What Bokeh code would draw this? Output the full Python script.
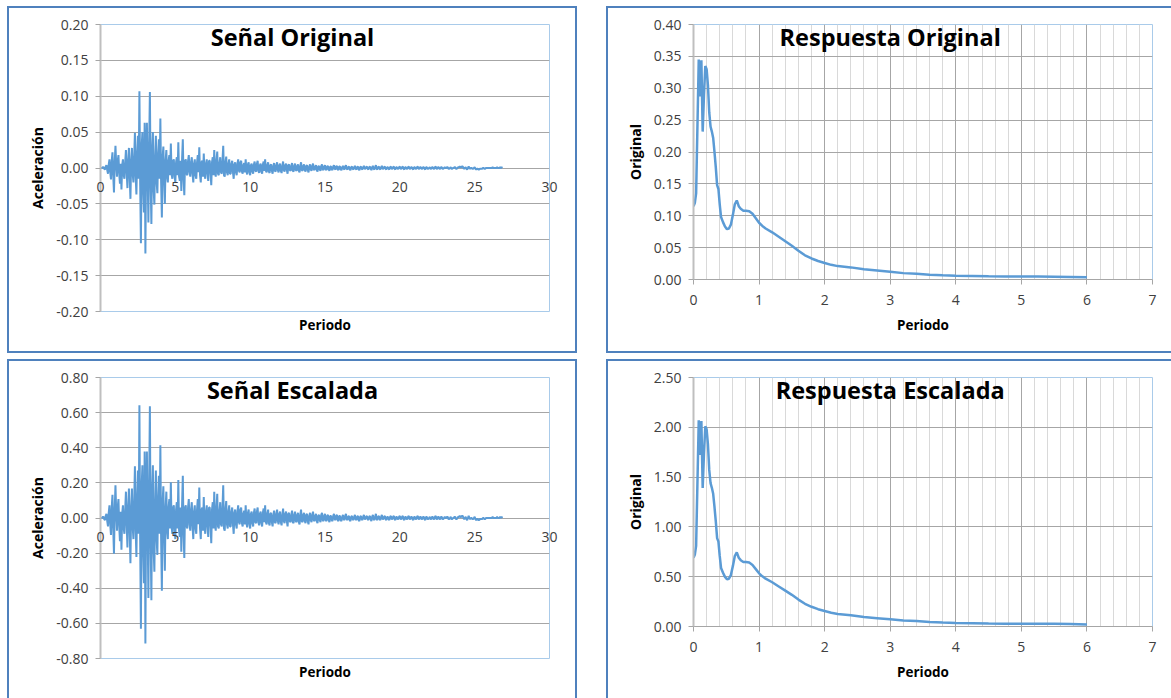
from bokeh.plotting import figure
from bokeh.layouts import row, column
from bokeh.models import (Range1d, FixedTicker, SingleIntervalTicker, Spacer,
                          NumeralTickFormatter, Label)
from bokeh.embed import file_html
from bokeh.resources import INLINE

# ---------------- data ----------------
paso_tiempo = 0.05
aceleracion_original = [
    # 0 - 1 s
    0.000, 0.000, 0.000, 0.001, 0.001, -0.001, -0.002, 0.002, 0.004, -0.003,
    -0.008, 0.005, 0.012, -0.006, -0.016, 0.010, 0.022, -0.010, -0.034, 0.008,
    # 1 - 2 s
    0.031, 0.005, -0.012, 0.010, 0.018, -0.008, -0.022, 0.006, -0.030, 0.004,
    0.012, -0.010, -0.015, 0.008, 0.025, -0.006, -0.028, 0.010, 0.028, -0.012,
    # 2 - 3 s
    -0.043, 0.010, 0.028, -0.008, -0.020, 0.015, 0.049, -0.012, -0.037, 0.020,
    0.045, -0.015, 0.107, -0.020, -0.105, 0.030, 0.050, -0.030, -0.062, 0.063,
    # 3 - 4 s
    -0.119, 0.020, 0.063, -0.010, -0.076, 0.030, 0.106, -0.020, -0.078, 0.025,
    0.050, -0.030, -0.051, 0.015, 0.045, -0.020, -0.035, 0.020, 0.040, -0.015,
    # 4 - 5 s
    0.069, -0.020, -0.069, 0.015, 0.030, -0.015, -0.050, 0.010, 0.025, -0.012,
    -0.020, 0.010, 0.018, -0.010, 0.034, -0.008, -0.015, 0.010, 0.012, -0.012,
    # 5 - 6 s
    -0.020, 0.008, 0.015, -0.010, 0.036, -0.012, -0.018, 0.010, -0.032, 0.012,
    0.040, -0.015, -0.038, 0.010, 0.012, -0.008, -0.010, 0.010, 0.018, -0.006,
    # 6 - 7 s
    -0.012, 0.008, 0.015, -0.008, -0.020, 0.006, 0.012, -0.010, -0.015, 0.008,
    0.018, -0.006, 0.029, -0.010, -0.020, 0.008, 0.010, -0.012, 0.020, -0.008,
    # 7 - 8 s
    -0.015, 0.006, 0.012, -0.008, -0.018, 0.010, 0.010, -0.006, -0.024, 0.008,
    0.015, -0.010, 0.025, -0.006, -0.012, 0.010, 0.023, -0.008, -0.010, 0.006,
    # 8 - 9 s
    0.015, -0.006, -0.008, 0.010, 0.031, -0.010, -0.012, 0.008, 0.016, -0.006,
    -0.010, 0.006, 0.012, -0.008, -0.008, 0.006, 0.010, -0.006, -0.015, 0.005,
    # 9 - 10 s
    0.008, -0.006, -0.010, 0.006, 0.012, -0.004, -0.006, 0.008, 0.010, -0.005,
    -0.008, 0.004, 0.007, -0.006, 0.012, -0.004, -0.009, 0.005, 0.008, -0.006,
    # 10 - 11 s
    -0.010, 0.004, 0.006, -0.005, -0.008, 0.005, 0.009, -0.004, -0.005, 0.006,
    0.010, -0.004, -0.007, 0.004, 0.006, -0.005, -0.008, 0.005, 0.009, -0.004,
    # 11 - 12 s
    0.012, -0.004, -0.006, 0.004, 0.008, -0.005, -0.007, 0.004, 0.005, -0.004,
    -0.008, 0.003, 0.007, -0.004, -0.005, 0.004, 0.008, -0.003, -0.006, 0.004,
    # 12 - 13 s
    0.006, -0.004, -0.007, 0.003, 0.009, -0.003, -0.005, 0.004, 0.006, -0.003,
    -0.008, 0.004, 0.005, -0.003, -0.004, 0.003, 0.007, -0.004, -0.005, 0.003,
    # 13 - 14 s
    0.006, -0.003, -0.004, 0.003, 0.005, -0.004, -0.006, 0.003, 0.008, -0.003,
    -0.004, 0.003, 0.005, -0.003, -0.005, 0.003, 0.004, -0.003, -0.006, 0.002,
    # 14 - 15 s
    0.005, -0.002, -0.004, 0.003, 0.006, -0.002, -0.003, 0.002, 0.004, -0.003,
    -0.005, 0.002, 0.003, -0.002, -0.004, 0.003, 0.005, -0.002, -0.003, 0.002,
    # 15 - 16 s
    0.004, -0.002, -0.003, 0.002, 0.003, -0.002, -0.004, 0.002, 0.002, -0.002,
    -0.003, 0.002, 0.004, -0.001, -0.002, 0.002, 0.003, -0.002, -0.003, 0.002,
    # 16 - 17 s
    0.002, -0.002, -0.003, 0.001, 0.003, -0.001, -0.002, 0.002, 0.004, -0.001,
    -0.002, 0.001, 0.002, -0.002, -0.003, 0.001, 0.002, -0.001, -0.002, 0.001,
    # 17 - 18 s
    0.003, -0.001, -0.002, 0.001, 0.002, -0.002, -0.003, 0.001, 0.002, -0.001,
    -0.002, 0.001, 0.003, -0.001, -0.001, 0.001, 0.002, -0.001, -0.002, 0.001,
    # 18 - 19 s
    0.002, -0.001, -0.003, 0.001, 0.003, -0.001, -0.002, 0.001, 0.004, -0.001,
    -0.002, 0.001, 0.002, -0.001, -0.002, 0.001, 0.003, -0.001, -0.001, 0.001,
    # 19 - 20 s
    0.002, -0.001, -0.002, 0.001, 0.001, -0.001, -0.002, 0.001, 0.002, -0.001,
    -0.001, 0.001, 0.002, -0.001, -0.002, 0.001, 0.001, -0.001, -0.001, 0.001,
    # 20 - 21 s
    0.002, -0.001, -0.001, 0.001, 0.002, -0.001, -0.002, 0.001, 0.001, -0.001,
    -0.001, 0.001, 0.002, -0.001, -0.001, 0.001, 0.001, -0.001, -0.002, 0.001,
    # 21 - 22 s
    0.001, -0.001, -0.001, 0.001, 0.002, -0.001, -0.001, 0.001, 0.001, -0.001,
    -0.001, 0.001, 0.001, -0.001, -0.002, 0.001, 0.001, -0.001, -0.001, 0.000,
    # 22 - 23 s
    0.001, -0.001, -0.001, 0.001, 0.001, -0.001, -0.001, 0.001, 0.002, -0.001,
    -0.001, 0.001, 0.001, -0.001, -0.001, 0.001, 0.001, -0.001, -0.001, 0.000,
    # 23 - 24 s
    0.001, 0.000, 0.000, 0.001, 0.001, -0.001, -0.001, 0.000, 0.001, -0.001,
    -0.001, 0.000, 0.000, 0.001, 0.001, -0.001, -0.001, 0.000, 0.001, 0.001,
    # 24 - 25 s
    0.002, 0.001, 0.001, 0.002, 0.002, 0.000, -0.001, 0.000, 0.001, -0.001,
    -0.002, 0.000, 0.002, 0.000, -0.001, 0.000, 0.000, -0.001, -0.001, 0.000,
    # 25 - 26 s
    0.001, -0.001, -0.002, -0.001, -0.001, -0.002, -0.002, -0.001, -0.001, -0.001,
    -0.001, 0.000, 0.000, -0.001, -0.001, 0.000, 0.000, 0.000, 0.000, 0.000,
    # 26 - 26.85 s
    0.000, 0.000, 0.000, 0.000, 0.001, 0.000, 0.000, 0.000, 0.000, 0.000,
    0.001, 0.000, 0.000, 0.000, 0.001, 0.000, 0.001, 0.000,
]
tiempo = [round(i * paso_tiempo, 2) for i in range(len(aceleracion_original))]

factor_escala = 6.0
aceleracion_escalada = [a * factor_escala for a in aceleracion_original]

periodo = [
    0.00, 0.02, 0.04, 0.06, 0.08, 0.10, 0.12, 0.14, 0.16, 0.18,
    0.20, 0.22, 0.24, 0.26, 0.28, 0.30, 0.32, 0.34, 0.36, 0.38,
    0.40, 0.42, 0.45, 0.48, 0.51, 0.54, 0.57, 0.60, 0.63, 0.66,
    0.69, 0.72, 0.76, 0.80, 0.85, 0.90, 0.95, 1.00, 1.05, 1.10,
    1.20, 1.30, 1.40, 1.50, 1.60, 1.70, 1.80, 1.90, 2.00, 2.10,
    2.20, 2.40, 2.60, 2.80, 3.00, 3.20, 3.40, 3.60, 3.80, 4.00,
    4.25, 4.50, 4.75, 5.00, 5.25, 5.50, 5.75, 6.00,
]
respuesta_original = [
    0.115, 0.120, 0.135, 0.240, 0.345, 0.287, 0.344, 0.232, 0.290, 0.335,
    0.330, 0.305, 0.262, 0.240, 0.232, 0.222, 0.200, 0.176, 0.148, 0.142,
    0.118, 0.098, 0.090, 0.083, 0.079, 0.080, 0.086, 0.101, 0.118, 0.124,
    0.115, 0.111, 0.108, 0.108, 0.107, 0.103, 0.096, 0.089, 0.084, 0.080,
    0.074, 0.067, 0.060, 0.053, 0.045, 0.038, 0.033, 0.029, 0.026, 0.023,
    0.021, 0.019, 0.016, 0.014, 0.012, 0.010, 0.009, 0.0075, 0.0065, 0.006,
    0.0055, 0.005, 0.0048, 0.0047, 0.0047, 0.0045, 0.004, 0.0035,
]
respuesta_escalada = [r * factor_escala for r in respuesta_original]

ticks_x_senal = [0, 5, 10, 15, 20, 25, 30]
ticks_y_senal_original = [-0.20, -0.15, -0.10, -0.05, 0.00, 0.05, 0.10, 0.15, 0.20]
ticks_y_senal_escalada = [-0.80, -0.60, -0.40, -0.20, 0.00, 0.20, 0.40, 0.60, 0.80]
ticks_y_resp_original = [0.00, 0.05, 0.10, 0.15, 0.20, 0.25, 0.30, 0.35, 0.40]
ticks_y_resp_escalada = [0.00, 0.50, 1.00, 1.50, 2.00, 2.50]

# ---------------- style ----------------
AZUL = "#5B9BD5"
BORDE = "#4F81BD"
GRIS = "#A6A6A6"
GRIS_CLARO = "#D9D9D9"
EJE = "#BFBFBF"
MARCO = "#A9CBEA"
TXT = "#404040"
FUENTE = "Open Sans"


def panel_css(sides):
    t, r, b, l = [("2px" if s in sides else "0px") for s in "trbl"]
    return {"border-style": "solid", "border-color": BORDE,
            "border-width": f"{t} {r} {b} {l}", "background-color": "white",
            "box-sizing": "border-box"}


def estilo_eje_y(ax, label):
    ax.axis_label = label
    ax.axis_label_text_font = FUENTE
    ax.axis_label_text_font_style = "bold"
    ax.axis_label_text_font_size = "14px"
    ax.axis_label_text_color = "black"
    ax.axis_label_standoff = 6
    ax.major_label_text_font = FUENTE
    ax.major_label_text_font_size = "14px"
    ax.major_label_text_color = TXT
    ax.major_label_standoff = 7
    ax.major_tick_in = 0
    ax.major_tick_out = 5
    ax.minor_tick_in = 0
    ax.minor_tick_out = 0
    ax.major_tick_line_color = GRIS
    ax.axis_line_color = EJE
    ax.axis_line_width = 2
    ax.formatter = NumeralTickFormatter(format="0.00")


def titulo(p, text, x, y):
    p.add_layout(Label(x=x, y=y, y_offset=-12, text=text, text_align="center",
                       text_baseline="alphabetic", text_font=FUENTE,
                       text_font_style="bold", text_font_size="23.5px",
                       text_color="black"))


def base_fig(w, h, x_end, y_ticks, left, right, top, bottom, sides):
    p = figure(width=w, height=h, x_range=Range1d(0, x_end),
               y_range=Range1d(y_ticks[0], y_ticks[-1]),
               output_backend="svg", toolbar_location=None,
               min_border_left=left, min_border_right=right,
               min_border_top=top, min_border_bottom=bottom,
               background_fill_color="white", border_fill_color="white")
    try:
        p.frame_align = False
    except Exception:
        pass
    p.styles = panel_css(sides)
    p.outline_line_color = MARCO
    p.outline_line_width = 1
    p.ygrid.ticker = FixedTicker(ticks=y_ticks)
    p.ygrid.grid_line_color = GRIS
    ya = p.yaxis[0]
    ya.ticker = FixedTicker(ticks=y_ticks)
    return p


def fig_senal(title, acc, y_ticks, h, top, bottom, sides):
    p = base_fig(570, h, 30, y_ticks, 91, 30, top, bottom, sides)
    xa = p.xaxis[0]
    xa.ticker = FixedTicker(ticks=[])
    xa.axis_label = "Periodo"
    xa.axis_line_color = None
    xa.major_tick_out = 0
    xa.minor_tick_out = 0
    xa.axis_label_text_font = FUENTE
    xa.axis_label_text_font_style = "bold"
    xa.axis_label_text_font_size = "13.5px"
    xa.axis_label_text_color = "black"
    xa.axis_label_standoff = 4
    estilo_eje_y(p.yaxis[0], "Aceleración")
    # tick labels of the horizontal axis, which crosses the vertical one at zero;
    # the two at the ends of the range sit in the side panels so they are not clipped
    ultimo = len(ticks_x_senal) - 1
    for i, t in enumerate(ticks_x_senal):
        lab = Label(x=t, y=0, y_offset=-19, text=str(t),
                    text_align="center", text_baseline="middle",
                    text_font=FUENTE, text_font_size="14px", text_color=TXT)
        if i == 0:
            p.add_layout(lab, "left")
        elif i == ultimo:
            p.add_layout(lab, "right")
        else:
            p.add_layout(lab)
    p.line(tiempo, acc, line_color=AZUL, line_width=2.0)
    titulo(p, title, 12.83, y_ticks[-1])
    return p


def fig_resp(title, resp, y_ticks, h, top, bottom, sides):
    p = base_fig(565, h, 7, y_ticks, 85, 21, top, bottom, sides)
    tk = SingleIntervalTicker(interval=1, num_minor_ticks=5)
    xa = p.xaxis[0]
    xa.ticker = tk
    xa.axis_label = "Periodo"
    xa.axis_label_text_font = FUENTE
    xa.axis_label_text_font_style = "bold"
    xa.axis_label_text_font_size = "13.5px"
    xa.axis_label_text_color = "black"
    xa.axis_label_standoff = 8
    xa.major_label_text_font = FUENTE
    xa.major_label_text_font_size = "14px"
    xa.major_label_text_color = TXT
    xa.major_label_standoff = 10
    xa.major_tick_in = 0
    xa.major_tick_out = 5
    xa.minor_tick_in = 0
    xa.minor_tick_out = 0
    xa.major_tick_line_color = GRIS
    xa.axis_line_color = GRIS
    p.xgrid.ticker = tk
    p.xgrid.grid_line_color = GRIS
    p.xgrid.minor_grid_line_color = GRIS_CLARO
    estilo_eje_y(p.yaxis[0], "Original")
    p.line(periodo, resp, line_color=AZUL, line_width=2.5)
    titulo(p, title, 3.0, y_ticks[-1])
    return p


p1 = fig_senal("Señal Original", aceleracion_original, ticks_y_senal_original,
               347, 16, 44, "trbl")
p2 = fig_resp("Respuesta Original", respuesta_original, ticks_y_resp_original,
              347, 16, 76, "tbl")
p3 = fig_senal("Señal Escalada", aceleracion_escalada, ticks_y_senal_escalada,
               339, 16, 42, "trl")
p4 = fig_resp("Respuesta Escalada", respuesta_escalada, ticks_y_resp_escalada,
              339, 16, 74, "tl")

fila1 = row(Spacer(width=7, height=347), p1, Spacer(width=29, height=347), p2, spacing=0)
fila2 = row(Spacer(width=7, height=339), p3, Spacer(width=29, height=339), p4, spacing=0)
layout = column(Spacer(width=1171, height=6), fila1, Spacer(width=1171, height=6), fila2,
                spacing=0)

open("out.html", "w").write(file_html(layout, INLINE))
